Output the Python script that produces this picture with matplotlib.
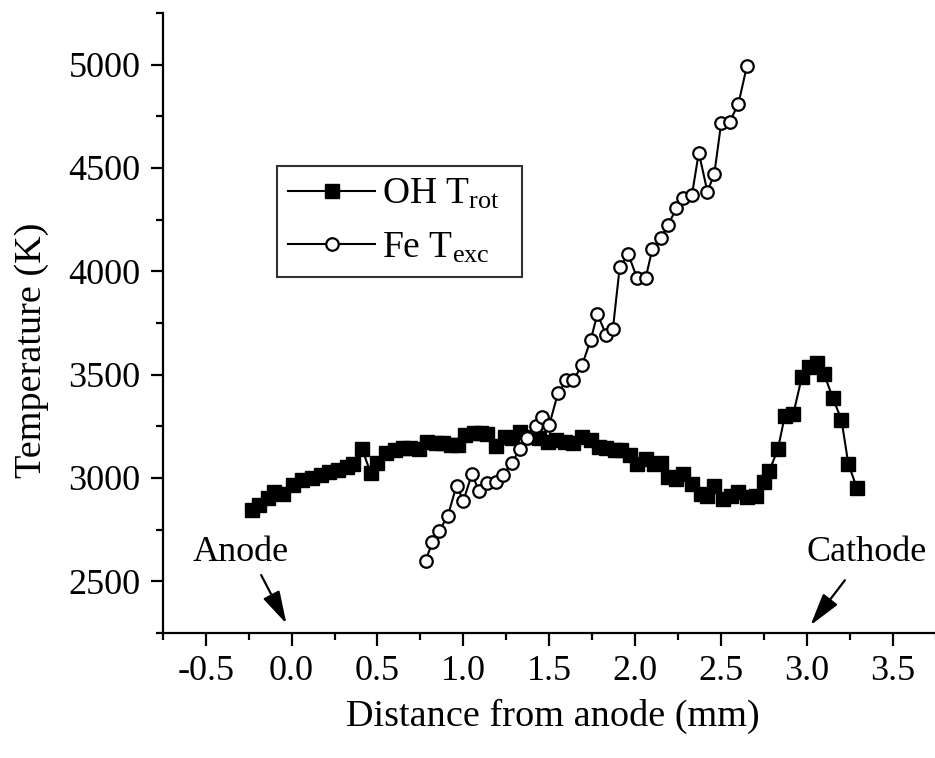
import matplotlib
matplotlib.use("Agg")
import matplotlib.pyplot as plt

# OH rotational temperature (squares)
oh_x = [-0.23, -0.19, -0.14, -0.10, -0.05, 0.01, 0.06, 0.12, 0.17, 0.22,
        0.27, 0.32, 0.36, 0.41, 0.46, 0.50, 0.55, 0.60, 0.65, 0.69,
        0.74, 0.79, 0.84, 0.88, 0.93, 0.97, 1.01, 1.06, 1.10, 1.14,
        1.19, 1.24, 1.28, 1.33, 1.38, 1.44, 1.49, 1.54, 1.59, 1.64,
        1.69, 1.74, 1.79, 1.83, 1.88, 1.92, 1.97, 2.01, 2.06, 2.11,
        2.15, 2.19, 2.24, 2.28, 2.33, 2.38, 2.42, 2.46, 2.51, 2.56,
        2.60, 2.65, 2.70, 2.75, 2.78, 2.83, 2.87, 2.92, 2.97, 3.01,
        3.06, 3.10, 3.15, 3.20, 3.24, 3.29]
oh_t = [2845, 2871, 2902, 2930, 2922, 2965, 2989, 3000, 3015, 3028,
        3040, 3052, 3068, 3141, 3025, 3074, 3120, 3136, 3146, 3146,
        3138, 3173, 3170, 3170, 3160, 3158, 3207, 3215, 3218, 3212,
        3153, 3200, 3192, 3224, 3200, 3192, 3176, 3184, 3176, 3168,
        3200, 3184, 3152, 3144, 3136, 3136, 3113, 3066, 3090, 3066,
        3074, 3004, 2996, 3018, 2970, 2922, 2914, 2962, 2898, 2914,
        2930, 2906, 2914, 2978, 3034, 3138, 3298, 3309, 3490, 3538,
        3554, 3501, 3386, 3282, 3069, 2951]

# Fe excitation temperature (open circles)
fe_x = [0.78, 0.82, 0.86, 0.91, 0.96, 1.00, 1.05, 1.09, 1.14, 1.19,
        1.23, 1.28, 1.33, 1.37, 1.42, 1.46, 1.50, 1.55, 1.60, 1.64,
        1.69, 1.74, 1.78, 1.83, 1.87, 1.91, 1.96, 2.01, 2.06, 2.10,
        2.15, 2.19, 2.24, 2.28, 2.33, 2.37, 2.42, 2.46, 2.50, 2.55,
        2.60, 2.65]
fe_t = [2600, 2690, 2744, 2818, 2963, 2890, 3020, 2937, 2973, 2982,
        3015, 3070, 3142, 3193, 3249, 3297, 3257, 3409, 3473, 3473,
        3545, 3665, 3793, 3693, 3721, 4022, 4081, 3969, 3965, 4109,
        4161, 4222, 4305, 4353, 4369, 4574, 4385, 4470, 4716, 4724,
        4809, 4993]

x_ticks = [-0.5, 0.0, 0.5, 1.0, 1.5, 2.0, 2.5, 3.0, 3.5]
y_ticks = [2500, 3000, 3500, 4000, 4500, 5000]

plt.rcParams['font.family'] = ['Liberation Serif', 'DejaVu Serif']
plt.rcParams['mathtext.fontset'] = 'custom'
plt.rcParams['mathtext.rm'] = 'Liberation Serif'
plt.rcParams['mathtext.it'] = 'Liberation Serif:italic'

fig = plt.figure(figsize=(9.35, 7.58), dpi=100)
ax = fig.add_axes([0.174, 0.165, 0.827, 0.818])

ax.plot(oh_x, oh_t, color='black', lw=1.5, marker='s', markersize=10,
        markerfacecolor='black', markeredgecolor='black',
        label=r'OH T$_\mathregular{rot}$  ')
ax.plot(fe_x, fe_t, color='black', lw=1.5, marker='o', markersize=9,
        markerfacecolor='white', markeredgecolor='black', markeredgewidth=1.6,
        label=r'Fe T$_\mathregular{exc}$  ')

ax.set_xlim(-0.75, 3.75)
ax.set_ylim(2250, 5250)
ax.set_xticks(x_ticks)
ax.set_xticks([t + 0.25 for t in x_ticks] + [-0.75], minor=True)
ax.set_yticks(y_ticks)
ax.set_yticks([t + 250 for t in y_ticks] + [2250], minor=True)
ax.xaxis.set_major_formatter(matplotlib.ticker.FormatStrFormatter('%.1f'))

for side in ['top', 'right']:
    ax.spines[side].set_visible(False)
for side in ['left', 'bottom']:
    ax.spines[side].set_linewidth(1.6)
ax.tick_params(which='major', direction='out', length=9, width=1.6, labelsize=26)
ax.tick_params(which='minor', direction='out', length=5, width=1.6)
ax.tick_params(axis='y', which='major', pad=7)
ax.tick_params(axis='x', which='major', pad=7)

ax.set_xlabel('Distance from anode (mm)', fontsize=27.5, va='center')
ax.set_ylabel('Temperature (K)', fontsize=27.5, va='center')
ax.xaxis.set_label_coords(0.505, -0.135)
ax.yaxis.set_label_coords(-0.169, 0.456)

arrow = dict(arrowstyle='-|>,head_length=1.0,head_width=0.28', color='black',
             lw=1.6, shrinkA=0, shrinkB=0, mutation_scale=20)
ax.text(-0.297, 2640, 'Anode', fontsize=26, ha='center', va='center')
ax.annotate('', xy=(-0.03, 2295), xytext=(-0.177, 2530), arrowprops=arrow)
ax.text(3.345, 2640, 'Cathode', fontsize=26, ha='center', va='center')
ax.annotate('', xy=(3.02, 2287), xytext=(3.22, 2505), arrowprops=arrow)

leg = ax.legend(loc='upper left', bbox_to_anchor=(0.148, 0.7525), borderaxespad=0,
                fontsize=27, frameon=True, fancybox=False, handlelength=2.3,
                handletextpad=0.2, borderpad=0.3, labelspacing=0.5, markerscale=1.0)
leg.get_frame().set_edgecolor('black')
leg.get_frame().set_linewidth(1.5)

fig.savefig('out.png', dpi=100)
